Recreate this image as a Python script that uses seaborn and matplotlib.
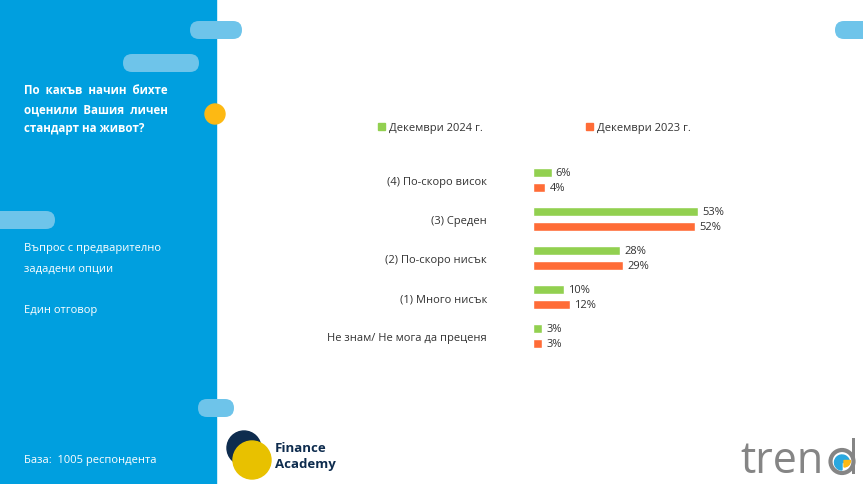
import pandas as pd
import numpy as np
import matplotlib.pyplot as plt
import seaborn as sns
from matplotlib.patches import FancyBboxPatch, Circle, Rectangle, Wedge

categories = ['(4) По-скоро висок', '(3) Среден', '(2) По-скоро нисък',
              '(1) Много нисък', 'Не знам/ Не мога да преценя']
dec_2024 = [6, 53, 28, 10, 3]
dec_2023 = [4, 52, 29, 12, 3]
periods = ['Декември 2024 г.', 'Декември 2023 г.']

question = ['По  какъв  начин  бихте', 'оценили  Вашия  личен', 'стандарт на живот?']
note_lines = ['Въпрос с предварително', 'зададени опции']
answer_note = 'Един отговор'
base_note = 'База:  1005 респондента'

df = pd.DataFrame({
    'cat': categories * 2,
    'value': dec_2024 + dec_2023,
    'period': [periods[0]] * 5 + [periods[1]] * 5,
})

sns.set_theme(style='white')
plt.rcParams['font.family'] = ['Open Sans', 'DejaVu Sans']

green = '#92D050'
orange = '#FF6C37'
blue = '#009FDF'
pill = '#6EC4EA'
navy = '#0E2C4E'
grey_logo = '#858585'

W, H = 863, 485
fig = plt.figure(figsize=(W / 100, H / 100), dpi=100)

# background decoration in pixel coordinates
bg = fig.add_axes([0, 0, 1, 1])
bg.set_xlim(0, W)
bg.set_ylim(H, 0)
bg.axis('off')
bg.add_patch(Rectangle((0, 0), 216, H, color=blue, zorder=1))
for x, y, w, h in [(190, 22, 52, 18), (123, 55, 76, 18), (-10, 212, 65, 18),
                   (198, 400, 36, 18), (835, 22, 40, 18)]:
    bg.add_patch(FancyBboxPatch((x, y), w, h, boxstyle='round,pad=0,rounding_size=9',
                                color=pill, lw=0, zorder=2))
bg.add_patch(Circle((215, 115), 10, color='#FDB913', zorder=3))

for i, line in enumerate(question):
    bg.text(24, 90 + i * 19.5, line, color='white', fontsize=8.3, fontweight='bold',
            va='center', zorder=4)
for i, line in enumerate(note_lines):
    bg.text(24, 249 + i * 20.5, line, color='white', fontsize=8, va='center', zorder=4)
bg.text(24, 311, answer_note, color='white', fontsize=8, va='center', zorder=4)
bg.text(24, 461, base_note, color='white', fontsize=8, va='center', zorder=4)

# Finance Academy logo
bg.add_patch(Circle((244, 449), 17, color=navy, zorder=3))
bg.add_patch(Circle((252, 461), 19, color='#E8C100', zorder=4))
bg.text(275, 449, 'Finance', color=navy, fontsize=9.5, fontweight='bold', va='center')
bg.text(275, 465, 'Academy', color=navy, fontsize=9.5, fontweight='bold', va='center')

# trend logo
bg.text(740, 462, 'tren', color=grey_logo, fontsize=31, va='center', ha='left')
bg.add_patch(Circle((842, 462.5), 11.5, fill=False, ec=grey_logo, lw=3, zorder=5))
bg.add_patch(Rectangle((852, 439), 3.4, 36, color=grey_logo, lw=0, zorder=5))
bg.add_patch(Wedge((842, 463.5), 7.5, 90, 360, color='#29A8E0', zorder=6))
bg.add_patch(Wedge((844, 461.5), 6.5, 0, 90, color='#FDB913', zorder=6))

# legend
bg.add_patch(Rectangle((378, 124), 7, 7, color=green))
bg.text(389, 128, periods[0], fontsize=8, va='center', color='#333333')
bg.add_patch(Rectangle((586, 124), 7, 7, color=orange))
bg.text(597, 128, periods[1], fontsize=8, va='center', color='#333333')

# bar chart
left_px, right_px = 533, 800
top_px, bot_px = 161.5, 356.5
ax = fig.add_axes([left_px / W, 1 - bot_px / H, (right_px - left_px) / W, (bot_px - top_px) / H])
sns.barplot(data=df, y='cat', x='value', hue='period', hue_order=periods,
            palette=[green, orange], saturation=1, orient='h', width=0.77, gap=0.36,
            legend=False, ax=ax)
ax.set_xlim(0, (right_px - left_px) / 3.11)
ax.set_ylim(4.5, -0.5)
for cont in ax.containers:
    ax.bar_label(cont, fmt='%d%%', padding=3, fontsize=8, color='#333333')
ax.set_xlabel('')
ax.set_ylabel('')
ax.set_xticks([])
ax.tick_params(axis='y', length=0, pad=33, labelsize=8, labelcolor='#333333')
for s in ax.spines.values():
    s.set_visible(False)
ax.patch.set_alpha(0)

plt.savefig('out.png', dpi=100)
